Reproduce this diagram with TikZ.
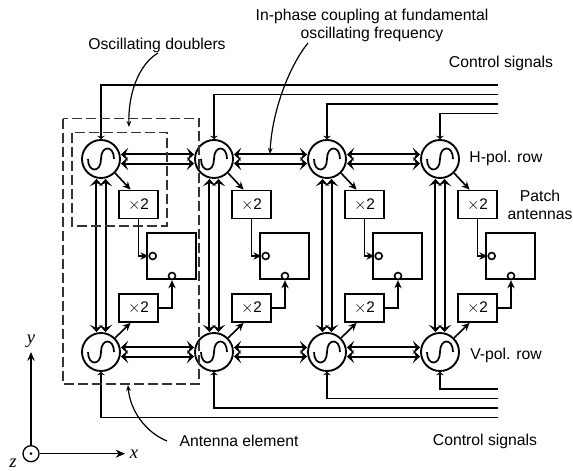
\documentclass[tikz,border=0pt]{standalone}
\usepackage{amsmath}
\usepackage{amssymb}
\usepackage{fontspec}
\setmainfont{Liberation Sans}
\newfontfamily\axisfont{Liberation Serif}
\usetikzlibrary{arrows.meta}
\tikzset{
  osc/.style={circle,draw,line width=1.4pt,inner sep=0pt,minimum size=28.5pt,
    path picture={\draw[line width=1.3pt,shift={(path picture bounding box.center)}]
      (-13,0) .. controls (-13,-14) and (0,-14) .. (0,0) .. controls (0,14) and (13,14) .. (13,0);}},
  dbl/.style={rectangle,draw,line width=1.3pt,inner sep=0pt,minimum width=29pt,minimum height=21pt,font=\fontsize{11.5}{12}\selectfont},
  patch/.style={rectangle,draw,line width=1.3pt,inner sep=0pt,minimum width=36.5pt,minimum height=35pt},
  port/.style={circle,draw,fill=white,line width=1.2pt,inner sep=0pt,minimum size=5.2pt},
  lbl/.style={inner sep=0.75pt,font=\fontsize{11.8}{14}\selectfont,align=center},
  axlbl/.style={inner sep=0.75pt,font=\axisfont\itshape\fontsize{14}{16}\selectfont},
  coupling/.style={line width=1.5pt,{Stealth[length=5.5pt,width=10pt,inset=2.5pt]}-{Stealth[length=5.5pt,width=10pt,inset=2.5pt]}},
  feed/.style={line width=1.2pt,-{Stealth[length=6pt,width=5.5pt]}},
  ctrl/.style={line width=0.9pt,-{Stealth[length=2.5pt,width=6pt,inset=1pt]}},
  leader/.style={line width=0.9pt,-{Stealth[length=4.5pt,width=3.5pt]}},
  dashbox/.style={line width=0.8pt,black!80,dash pattern=on 7.5pt off 3pt}
}
\begin{document}
\begin{tikzpicture}[x=0.75pt,y=0.75pt,yscale=-1]
\useasboundingbox (0,0) rectangle (573,470);

% Oscillators
\node [osc] (hosca) at (101,159) {};
\node [osc] (hoscb) at (214,159) {};
\node [osc] (hoscc) at (327,159) {};
\node [osc] (hoscd) at (440,159) {};
\node [osc] (vosca) at (101,352) {};
\node [osc] (voscb) at (214,352) {};
\node [osc] (voscc) at (327,352) {};
\node [osc] (voscd) at (440,352) {};

% Doublers
\node [dbl] (hdbla) at (138.5,204.5) {$\times$2};
\node [dbl] (hdblb) at (251.5,204.5) {$\times$2};
\node [dbl] (hdblc) at (364.5,204.5) {$\times$2};
\node [dbl] (hdbld) at (477.5,204.5) {$\times$2};
\node [dbl] (vdbla) at (138.5,308) {$\times$2};
\node [dbl] (vdblb) at (251.5,308) {$\times$2};
\node [dbl] (vdblc) at (364.5,308) {$\times$2};
\node [dbl] (vdbld) at (477.5,308) {$\times$2};

% Patches
\node [patch] (patcha) at (171.5,256) {};
\node [patch] (patchb) at (284.5,256) {};
\node [patch] (patchc) at (397.5,256) {};
\node [patch] (patchd) at (510.5,256) {};

% Ports
\node [port] (hporta) at (152.7,256) {};
\node [port] (hportb) at (265.7,256) {};
\node [port] (hportc) at (378.7,256) {};
\node [port] (hportd) at (491.7,256) {};
\node [port] (vporta) at (172,276) {};
\node [port] (vportb) at (285,276) {};
\node [port] (vportc) at (398,276) {};
\node [port] (vportd) at (511,276) {};

% Free ends of the control lines
\coordinate (cta) at (497.7,85);
\coordinate (ctb) at (497.7,94.7);
\coordinate (ctc) at (497.7,104);
\coordinate (ctd) at (497.7,113.7);
\coordinate (cbd) at (497.7,389);
\coordinate (cbc) at (497.7,398.7);
\coordinate (cbb) at (497.7,408);
\coordinate (cba) at (497.7,417.3);

% Control lines
\draw [ctrl] (cta) -| (hosca.north);
\draw [ctrl] (ctb) -| (hoscb.north);
\draw [ctrl] (ctc) -| (hoscc.north);
\draw [ctrl] (ctd) -| (hoscd.north);
\draw [ctrl] (cba) -| (vosca.south);
\draw [ctrl] (cbb) -| (voscb.south);
\draw [ctrl] (cbc) -| (voscc.south);
\draw [ctrl] (cbd) -| (voscd.south);

% Row coupling
\draw [coupling] ([yshift=3.4pt]hosca.east) -- ([yshift=3.4pt]hoscb.west);
\draw [coupling] ([yshift=-3.4pt]hosca.east) -- ([yshift=-3.4pt]hoscb.west);
\draw [coupling] ([yshift=3.4pt]hoscb.east) -- ([yshift=3.4pt]hoscc.west);
\draw [coupling] ([yshift=-3.4pt]hoscb.east) -- ([yshift=-3.4pt]hoscc.west);
\draw [coupling] ([yshift=3.4pt]hoscc.east) -- ([yshift=3.4pt]hoscd.west);
\draw [coupling] ([yshift=-3.4pt]hoscc.east) -- ([yshift=-3.4pt]hoscd.west);
\draw [coupling] ([yshift=3.4pt]vosca.east) -- ([yshift=3.4pt]voscb.west);
\draw [coupling] ([yshift=-3.4pt]vosca.east) -- ([yshift=-3.4pt]voscb.west);
\draw [coupling] ([yshift=3.4pt]voscb.east) -- ([yshift=3.4pt]voscc.west);
\draw [coupling] ([yshift=-3.4pt]voscb.east) -- ([yshift=-3.4pt]voscc.west);
\draw [coupling] ([yshift=3.4pt]voscc.east) -- ([yshift=3.4pt]voscd.west);
\draw [coupling] ([yshift=-3.4pt]voscc.east) -- ([yshift=-3.4pt]voscd.west);

% Column coupling
\draw [coupling] ([xshift=-3.4pt]hosca.south) -- ([xshift=-3.4pt]vosca.north);
\draw [coupling] ([xshift=3.4pt]hosca.south) -- ([xshift=3.4pt]vosca.north);
\draw [coupling] ([xshift=-3.4pt]hoscb.south) -- ([xshift=-3.4pt]voscb.north);
\draw [coupling] ([xshift=3.4pt]hoscb.south) -- ([xshift=3.4pt]voscb.north);
\draw [coupling] ([xshift=-3.4pt]hoscc.south) -- ([xshift=-3.4pt]voscc.north);
\draw [coupling] ([xshift=3.4pt]hoscc.south) -- ([xshift=3.4pt]voscc.north);
\draw [coupling] ([xshift=-3.4pt]hoscd.south) -- ([xshift=-3.4pt]voscd.north);
\draw [coupling] ([xshift=3.4pt]hoscd.south) -- ([xshift=3.4pt]voscd.north);

% Oscillator to doubler
\draw [feed] (hosca.-45) -- (hdbla.118);
\draw [feed] (hoscb.-45) -- (hdblb.118);
\draw [feed] (hoscc.-45) -- (hdblc.118);
\draw [feed] (hoscd.-45) -- (hdbld.118);
\draw [feed] (vosca.45) -- (vdbla.242);
\draw [feed] (voscb.45) -- (vdblb.242);
\draw [feed] (voscc.45) -- (vdblc.242);
\draw [feed] (voscd.45) -- (vdbld.242);

% Doubler to port
\draw [feed] (hdbla.south) |- (hporta.west);
\draw [feed] (hdblb.south) |- (hportb.west);
\draw [feed] (hdblc.south) |- (hportc.west);
\draw [feed] (hdbld.south) |- (hportd.west);
\draw [feed] (vdbla.east) -| (vporta.south);
\draw [feed] (vdblb.east) -| (vportb.south);
\draw [feed] (vdblc.east) -| (vportc.south);
\draw [feed] (vdbld.east) -| (vportd.south);

%Shape: Dashed boxes
\draw [dashbox] (63,118.7) rectangle (199,384);
\draw [dashbox] (72,132.7) rectangle (167,226);

% Axes
\node [circle,draw,line width=1pt,inner sep=0pt,minimum size=12pt] (zaxis) at (31,453.7) {};
\node [circle,fill,inner sep=0pt,minimum size=2.2pt] (zdot) at (31,453.7) {};
\coordinate (yend) at (31,352);
\coordinate (xend) at (125,453.7);
\draw [line width=1.1pt,-{Stealth[length=6.5pt,width=5.5pt]}] (zaxis.north) -- (yend);
\draw [line width=1.1pt,-{Stealth[length=7pt,width=6pt]}] (zaxis.east) -- (xend);

% Text Node
\node [axlbl] (ylabel) at (31,341) {y};
% Text Node
\node [axlbl] (xlabel) at (134,454) {x};
% Text Node
\node [axlbl] (zlabel) at (13,463) {z};
% Text Node
\node [lbl] (doublerlabel) at (157,45) {Oscillating doublers};
% Text Node
\node [lbl] (couplinglabel) at (372,25.5) {In-phase coupling at fundamental\\oscillating frequency};
% Text Node
\node [lbl] (topsignals) at (501,63) {Control signals};
% Text Node
\node [lbl] (hrow) at (506,158) {H-pol. row};
% Text Node
\node [lbl] (patchlabel) at (540,205) {Patch\\antennas};
% Text Node
\node [lbl] (vrow) at (506,355) {V-pol. row};
% Text Node
\node [lbl] (botsignals) at (485,441) {Control signals};
% Text Node
\node [lbl] (elementlabel) at (239,441) {Antenna element};

% Leaders
\coordinate (doublerfrom) at (158,53);
\coordinate (doublerto) at (129,127);
\coordinate (couplingfrom) at (308,43);
\coordinate (couplingto) at (270,154);
\coordinate (elementfrom) at (167,441);
\coordinate (elementto) at (128,385);
\draw [leader] (doublerfrom) .. controls (138,65) and (128,95) .. (doublerto);
\draw [leader] (couplingfrom) .. controls (290,65) and (272,110) .. (couplingto);
\draw [leader] (elementfrom) .. controls (145,432) and (130,410) .. (elementto);

\end{tikzpicture}
\end{document}
